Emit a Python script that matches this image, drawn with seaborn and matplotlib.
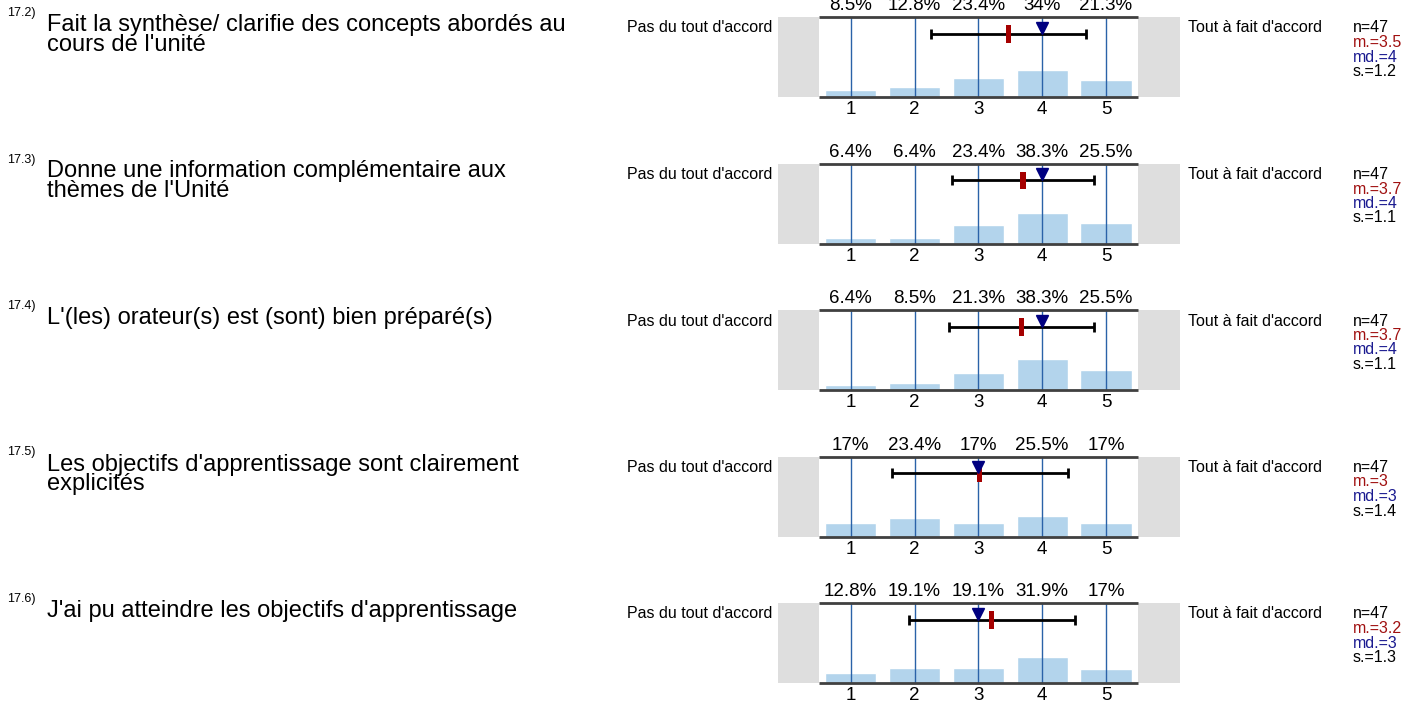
import numpy as np
import pandas as pd
import seaborn as sns
import matplotlib.pyplot as plt
from matplotlib.patches import Rectangle

# values
item_nums = ["17.2)", "17.3)", "17.4)", "17.5)", "17.6)"]
questions = [
    "Fait la synthèse/ clarifie des concepts abordés au\ncours de l'unité",
    "Donne une information complémentaire aux\nthèmes de l'Unité",
    "L'(les) orateur(s) est (sont) bien préparé(s)",
    "Les objectifs d'apprentissage sont clairement\nexplicités",
    "J'ai pu atteindre les objectifs d'apprentissage",
]
scale = [1, 2, 3, 4, 5]
pcts = [
    [8.5, 12.8, 23.4, 34, 21.3],
    [6.4, 6.4, 23.4, 38.3, 25.5],
    [6.4, 8.5, 21.3, 38.3, 25.5],
    [17, 23.4, 17, 25.5, 17],
    [12.8, 19.1, 19.1, 31.9, 17],
]
means = [3.47, 3.70, 3.68, 3.02, 3.21]
medians = [4, 4, 4, 3, 3]
sds = [1.21, 1.12, 1.14, 1.38, 1.30]
n_resp = [47, 47, 47, 47, 47]
mean_lbl = ["3.5", "3.7", "3.7", "3", "3.2"]
sd_lbl = ["1.2", "1.1", "1.1", "1.4", "1.3"]
left_lbl = "Pas du tout d'accord"
right_lbl = "Tout à fait d'accord"

sns.set_style("white")
plt.rcParams['font.family'] = ['Liberation Sans', 'DejaVu Sans']
plt.rcParams['text.color'] = 'black'
plt.rcParams['xtick.color'] = 'black'

W, H = 1418, 706
fig = plt.figure(figsize=(W / 100, H / 100), dpi=100)

def fx(px):
    return px / W

def fy(py):
    return 1 - py / H

bar_col = "#b3d4ec"
line_col = "#2a62a8"
gray_col = "#dedede"
mean_col = "#a50000"
med_col = "#000080"

for i in range(5):
    top = 17 + 146.5 * i
    ax = fig.add_axes([fx(778), fy(top + 80), fx(1180 - 778), 80 / H])
    df = pd.DataFrame({"val": scale, "pct": np.array(pcts[i]) / 100})
    sns.barplot(data=df, x="val", y="pct", native_scale=True, color=bar_col,
                saturation=1, width=0.8, ax=ax, zorder=2)
    ax.set_xlim(-0.14, 6.16)
    ax.set_ylim(0, 1)
    ax.axvspan(-0.14, 0.5, color=gray_col, lw=0, zorder=0)
    ax.axvspan(5.5, 6.16, color=gray_col, lw=0, zorder=0)
    ax.vlines(scale, 0, 1, color=line_col, lw=1, zorder=3)
    ax.hlines([0, 1], 0.5, 5.5, color="#404040", lw=2, zorder=4, clip_on=False)

    # spread bar + mean + median
    ey = 0.79
    ax.errorbar(means[i], ey, xerr=sds[i], fmt="none", ecolor="black",
                elinewidth=2, capsize=3.5, capthick=2, zorder=5)
    ax.add_patch(Rectangle((means[i] - 0.04, ey - 0.11), 0.08, 0.22,
                           color=mean_col, lw=0, zorder=6))
    ax.plot(medians[i], ey + 0.075, marker="v", ms=9, color=med_col,
            ls="none", zorder=7)

    for x, p in zip(scale, pcts[i]):
        ax.annotate(f"{p:g}%", (x, 1), xytext=(0, 5), textcoords="offset points",
                    ha="center", va="baseline", fontsize=13.5, color="black")

    ax.set_xticks(scale)
    ax.set_xticklabels([str(s) for s in scale], fontsize=13.5)
    ax.tick_params(axis="x", length=0, pad=3, colors="black")
    ax.set_yticks([])
    ax.set_xlabel("")
    ax.set_ylabel("")
    for s in ax.spines.values():
        s.set_visible(False)

    fig.text(fx(772), fy(top + 11), left_lbl, ha="right", va="center", fontsize=11.5)
    fig.text(fx(1188), fy(top + 11), right_lbl, ha="left", va="center", fontsize=11.5)

    stats = [(f"n={n_resp[i]}", "black"), (f"m.={mean_lbl[i]}", "#a01010"),
             (f"md.={medians[i]}", "#1a1a90"), (f"s.={sd_lbl[i]}", "black")]
    for k, (s, c) in enumerate(stats):
        fig.text(fx(1353), fy(top + 11 + 14.5 * k), s, ha="left", va="center",
                 fontsize=11.5, color=c)

    fig.text(fx(7), fy(top - 4), item_nums[i], ha="left", va="center", fontsize=9)
    fig.text(fx(47), fy(top - 3), questions[i], ha="left", va="top", fontsize=17,
             linespacing=0.86)

fig.savefig("out.png", dpi=100)
